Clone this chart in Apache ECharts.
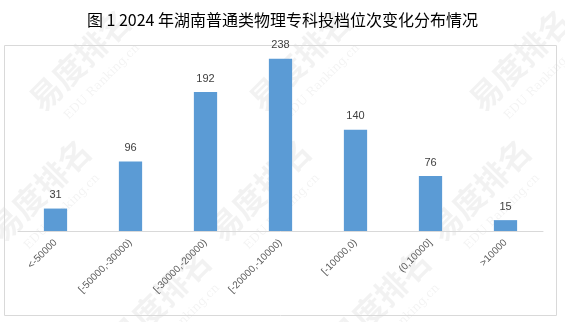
<!DOCTYPE html>
<html><head><meta charset="utf-8">
<script src="https://cdn.jsdelivr.net/npm/echarts@6/dist/echarts.min.js"></script>
<style>html,body{margin:0;padding:0;background:#fff}#c{width:565px;height:322px}</style>
</head><body><div id="c"></div>
<script>
const categories = ["<-50000", "[-50000,-30000)", "[-30000,-20000)", "[-20000,-10000)", "[-10000,0)", "(0,10000]", ">10000"];
const values = [31, 96, 192, 238, 140, 76, 15];
const titleText = "图 1 2024 年湖南普通类物理专科投档位次变化分布情况";

const chart = echarts.init(document.getElementById('c'), null, {renderer: 'canvas'});
const wm = [];
const wmPos = [[80,60],[300,60],[520,60],[40,190],[260,190],[480,190],[160,300],[380,300]];
wmPos.forEach(p => {
  wm.push({type:'text', x:p[0], y:p[1], rotation: Math.PI/4, z:-10, silent:true,
    style:{text:'易度排名', fill:'rgba(0,0,0,0.05)', font:'bold 32px "Noto Sans CJK SC"', align:'center', verticalAlign:'middle'}});
  wm.push({type:'text', x:p[0]+22, y:p[1]+22, rotation: Math.PI/4, z:-10, silent:true,
    style:{text:'EDU Ranking.cn', fill:'rgba(0,0,0,0.05)', font:'12px "DejaVu Serif"', align:'center', verticalAlign:'middle'}});
});
chart.setOption({
  animation: false,
  title: {text: titleText, left: 'center', top: 7,
    textStyle: {fontFamily: '"Noto Sans CJK SC"', fontSize: 16, fontWeight: 'normal', color: '#000'}},
  graphic: [
    {type:'rect', shape:{x:4.5, y:45.5, width:552, height:270}, style:{fill:'none', stroke:'#d9d9d9', lineWidth:1}, z:-5, silent:true}
  ].concat(wm),
  grid: {left: 18, right: 22, top: 50, bottom: 91},
  xAxis: {type: 'category', data: categories,
    axisLine: {lineStyle: {color: '#d9d9d9'}}, axisTick: {show: false},
    axisLabel: {rotate: 45, interval: 0, color: '#595959', fontSize: 10, fontFamily: '"Liberation Sans"', margin: 10}},
  yAxis: {type: 'value', min: 0, max: 250, show: false, splitLine: {show: false}},
  series: [{type: 'bar', data: values, barWidth: '31%', itemStyle: {color: '#5b9bd5'},
    label: {show: true, position: 'top', distance: 8, color: '#404040', fontSize: 11, fontFamily: '"Liberation Sans"'}}]
});
</script></body></html>
